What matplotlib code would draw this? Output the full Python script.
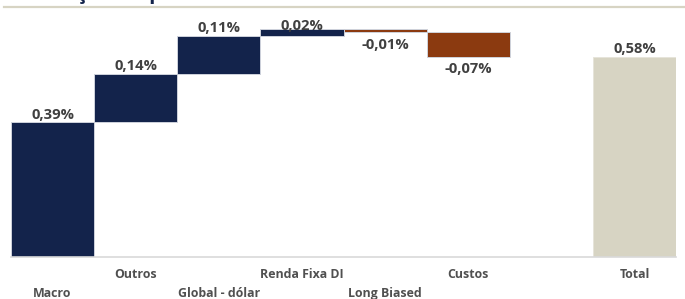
import numpy as np
import matplotlib.pyplot as plt

# dados do gráfico (contribuição por estratégia, em %)
categorias = ['Macro', 'Outros', 'Global - dólar', 'Renda Fixa DI',
              'Long Biased', 'Custos', 'Total']
contribuicoes = [0.39, 0.14, 0.11, 0.02, -0.01, -0.07]
total = 0.58
posicoes = [0, 1, 2, 3, 4, 5, 7]   # slot 6 fica vazio antes do Total

azul = '#13234b'
laranja = '#8b3a10'
bege = '#d7d4c3'
cinza_txt = '#404040'

fonte_cat = ['Open Sans', 'DejaVu Sans']
fonte_val = ['Open Sans', 'DejaVu Sans']

fig = plt.figure(figsize=(6.85, 2.99), dpi=100)
ax = fig.add_axes([11/685, 42/299, 665/685, 238/299])
ymax = 0.689

# waterfall
acum = np.concatenate([[0], np.cumsum(contribuicoes)])
fundos = [min(acum[i], acum[i+1]) for i in range(len(contribuicoes))]
alturas = [abs(v) for v in contribuicoes]
cores = [azul if v >= 0 else laranja for v in contribuicoes]

ax.bar(posicoes[:-1], alturas, bottom=fundos, width=1.0, color=cores,
       edgecolor='#cfd3dc', linewidth=0.7, zorder=2)
ax.bar(posicoes[-1], total, width=1.0, color=bege,
       edgecolor='#e6e4da', linewidth=0.7, zorder=2)

def fmt(v):
    return f'{v:.2f}%'.replace('.', ',')

# rótulos de valor
tam_val = 10.6
for i, v in enumerate(contribuicoes):
    x = posicoes[i]
    if v >= 0:
        topo = fundos[i] + alturas[i]
        if topo + 0.04 > ymax:
            ax.text(x, ymax, fmt(v), ha='center', va='top', fontsize=tam_val,
                    fontweight='bold', color=cinza_txt, family=fonte_val,
                    zorder=3, clip_on=False)
        else:
            ax.annotate(fmt(v), (x, topo), xytext=(0, 2.5),
                        textcoords='offset points', ha='center',
                        va='baseline', fontsize=tam_val, fontweight='bold',
                        color=cinza_txt, family=fonte_val)
    else:
        ax.annotate(fmt(v), (x, fundos[i]), xytext=(0, -4),
                    textcoords='offset points', ha='center', va='top',
                    fontsize=tam_val, fontweight='bold', color=cinza_txt,
                    family=fonte_val)
ax.annotate(fmt(total), (posicoes[-1], total), xytext=(0, 2.5),
            textcoords='offset points', ha='center', va='baseline',
            fontsize=tam_val, fontweight='bold', color=cinza_txt,
            family=fonte_val)

# rótulos das categorias, alternando em duas linhas
for i, (x, nome) in enumerate(zip(posicoes, categorias)):
    desloc = -26.5 if i % 2 == 0 and nome != 'Total' else -12.5
    ax.annotate(nome, (x, 0), xycoords=('data', 'axes fraction'),
                xytext=(0, desloc), textcoords='offset points',
                ha='center', va='center', fontsize=8.9, fontweight='bold',
                color='#505050', family=fonte_cat)

ax.set_xlim(-0.5, 7.5)
ax.set_ylim(0, ymax)
ax.set_xticks([])
ax.set_yticks([])
for lado in ['top', 'right', 'left']:
    ax.spines[lado].set_visible(False)
ax.spines['bottom'].set_color('#d9d9d9')
ax.spines['bottom'].set_linewidth(1.2)

# título cortado no topo e linha bege
fig.text(4/685, 1 + 1/299, 'Atribuição de performance', ha='left',
         va='baseline', fontsize=15, fontweight='bold', color=azul,
         family=fonte_val)
fig.add_artist(plt.Line2D([4/685, 684/685], [1 - 6.5/299, 1 - 6.5/299],
                          color=bege, linewidth=1.6, transform=fig.transFigure))

fig.savefig('out.png', dpi=100)
